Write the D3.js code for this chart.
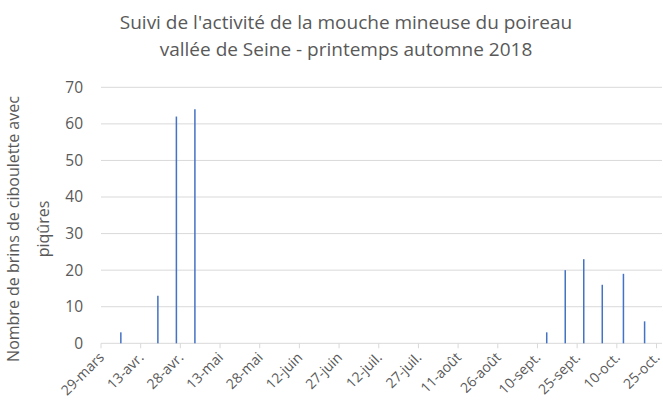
<!DOCTYPE html>
<html>
<head>
<meta charset="utf-8">
<script src="https://cdn.jsdelivr.net/npm/d3@7"></script>
<style>
  body { margin: 0; background: #fff; }
  text { font-family: "Open Sans", "Liberation Sans", sans-serif; fill: #595959; }
</style>
</head>
<body>
<svg id="chart"></svg>
<script>
// data
const obsDates = ['2018-04-05', '2018-04-19', '2018-04-26', '2018-05-03',
  '2018-09-13', '2018-09-20', '2018-09-27', '2018-10-04', '2018-10-12', '2018-10-20'];
const obsValues = [3, 13, 62, 64, 3, 20, 23, 16, 19, 6];
const tickLabels = ['29-mars', '13-avr.', '28-avr.', '13-mai', '28-mai', '12-juin', '27-juin',
  '12-juil.', '27-juil.', '11-août', '26-août', '10-sept.', '25-sept.', '10-oct.', '25-oct.'];
const yTicks = [0, 10, 20, 30, 40, 50, 60, 70];

const width = 663, height = 405;
const svg = d3.select('#chart').attr('width', width).attr('height', height);

const parse = d3.utcParse('%Y-%m-%d');
const start = parse('2018-03-29');
const end = parse('2018-10-25');

const x = d3.scaleUtc().domain([start, end]).range([101, 656.5]);
const y = d3.scaleLinear().domain([0, 70]).range([343.3, 87.3]);
const halfDay = (x(d3.utcDay.offset(start, 1)) - x(start)) / 2;
const plotRight = 662;

//TITLE
const title = svg.append('text')
  .attr('x', 346)
  .attr('text-anchor', 'middle')
  .attr('font-size', '19px');
title.append('tspan').attr('x', 346).attr('y', 29).text("Suivi de l'activité de la mouche mineuse du poireau");
title.append('tspan').attr('x', 346).attr('y', 56).text('vallée de Seine - printemps automne 2018');

//GRIDLINES
svg.append('g')
  .selectAll('line')
  .data(yTicks.slice(1))
  .enter()
  .append('line')
  .attr('x1', 101)
  .attr('x2', plotRight)
  .attr('y1', (d) => y(d))
  .attr('y2', (d) => y(d))
  .attr('stroke', '#d9d9d9')
  .attr('stroke-width', 1);

//Y LABELS
svg.append('g')
  .selectAll('text')
  .data(yTicks)
  .enter()
  .append('text')
  .attr('x', 83)
  .attr('y', (d) => y(d))
  .attr('dy', '0.35em')
  .attr('text-anchor', 'end')
  .attr('font-size', '15.5px')
  .text((d) => d);

//X AXIS
const tickDates = tickLabels.map((d, i) => d3.utcDay.offset(start, 15 * i));
svg.append('line')
  .attr('x1', 101)
  .attr('x2', plotRight)
  .attr('y1', y(0))
  .attr('y2', y(0))
  .attr('stroke', '#d9d9d9');

svg.append('g')
  .selectAll('line')
  .data(tickDates)
  .enter()
  .append('line')
  .attr('x1', (d) => x(d))
  .attr('x2', (d) => x(d))
  .attr('y1', y(0))
  .attr('y2', y(0) + 5)
  .attr('stroke', '#d9d9d9');

svg.append('g')
  .selectAll('text')
  .data(tickDates)
  .enter()
  .append('text')
  .attr('transform', (d) => `translate(${x(d) + 4},${y(0) + 15}) rotate(-45)`)
  .attr('text-anchor', 'end')
  .attr('font-size', '14px')
  .text((d, i) => tickLabels[i]);

//BARS
svg.append('g')
  .selectAll('rect')
  .data(obsDates.map((d, i) => ({ date: parse(d), value: obsValues[i] })))
  .enter()
  .append('rect')
  .attr('x', (d) => x(d.date) + halfDay - 0.75)
  .attr('width', 1.5)
  .attr('y', (d) => y(d.value))
  .attr('height', (d) => y(0) - y(d.value))
  .attr('fill', '#4472c4');

//Y TITLE
const yTitle = svg.append('text')
  .attr('transform', 'translate(0,229) rotate(-90)')
  .attr('text-anchor', 'middle')
  .attr('font-size', '16px');
yTitle.append('tspan').attr('x', 0).attr('y', 19).text('Nombre de brins de ciboulette avec');
yTitle.append('tspan').attr('x', 0).attr('y', 49).text('piqûres');
</script>
</body>
</html>
